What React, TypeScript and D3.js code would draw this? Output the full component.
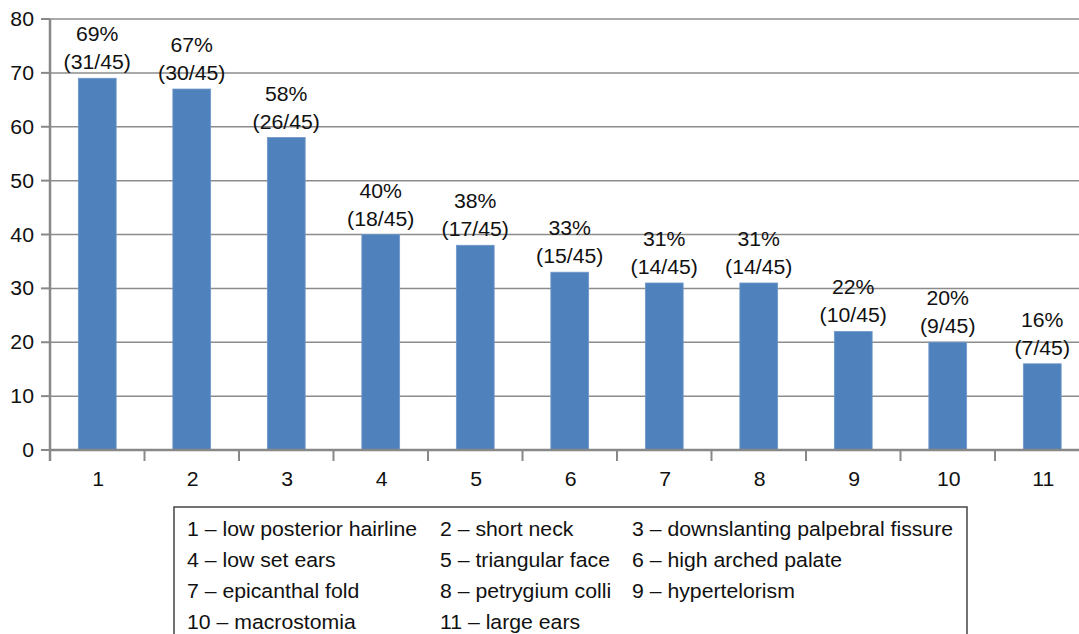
import { useEffect, useRef } from 'react'
import * as d3 from 'd3'

const categories = ['1', '2', '3', '4', '5', '6', '7', '8', '9', '10', '11']
const percents = [69, 67, 58, 40, 38, 33, 31, 31, 22, 20, 16]
const counts = [31, 30, 26, 18, 17, 15, 14, 14, 10, 9, 7]
const total = 45
const yTicks = [0, 10, 20, 30, 40, 50, 60, 70, 80]
const legendRows = [
  ['1 – low posterior hairline', '2 – short neck', '3 – downslanting palpebral fissure'],
  ['4 – low set ears', '5 – triangular face', '6 – high arched palate'],
  ['7 – epicanthal fold', '8 – petrygium colli', '9 – hypertelorism'],
  ['10 – macrostomia', '11 – large ears', ''],
]

const W = 1079
const H = 634
const FONT = '"Liberation Sans", Arial, sans-serif'
const FS = 19.5
const SX = 1.09 // text in the original is a bit wide

export default function App() {
  const ref = useRef<SVGSVGElement>(null)

  useEffect(() => {
    const svg = d3.select(ref.current)
    svg.selectAll('*').remove()

    const label = (g: any, tx: number, ty: number, t: string, anchor = 'start') =>
      g.append('text')
        .attr('transform', `translate(${tx},${ty}) scale(${SX},1)`)
        .attr('text-anchor', anchor)
        .attr('font-family', FONT)
        .attr('font-size', FS)
        .attr('fill', '#111')
        .text(t)

    const left = 50
    const step = 94.5
    const x = d3.scaleBand<string>()
      .domain(categories)
      .range([left, left + step * categories.length])
      .paddingInner(0.6)
      .paddingOuter(0.3)

    const y = d3.scaleLinear().domain([0, 80]).range([450, 19])

    // Grid lines
    svg.append('g')
      .selectAll('line')
      .data(yTicks.slice(1))
      .enter().append('line')
      .attr('x1', left)
      .attr('x2', W)
      .attr('y1', d => y(d))
      .attr('y2', d => y(d))
      .attr('stroke', '#8c8c8c')
      .attr('stroke-width', 1.5)

    // Bars
    const data = categories.map((c, i) => ({ c, v: percents[i], n: counts[i] }))
    svg.append('g')
      .selectAll('rect')
      .data(data)
      .enter().append('rect')
      .attr('x', d => x(d.c) || 0)
      .attr('y', d => y(d.v))
      .attr('width', x.bandwidth())
      .attr('height', d => y(0) - y(d.v))
      .attr('fill', '#4f81bd')
      .attr('stroke', '#6f97c8')
      .attr('stroke-width', 0.8)

    // Value labels
    const labels = svg.append('g')
    data.forEach(d => {
      const cx = (x(d.c) || 0) + x.bandwidth() / 2
      label(labels, cx, y(d.v) - 37, `${d.v}%`, 'middle')
      label(labels, cx, y(d.v) - 9, `(${d.n}/${total})`, 'middle')
    })

    // Y axis
    const yAxis = svg.append('g')
    yTicks.forEach(t => {
      yAxis.append('line')
        .attr('x1', left - 9).attr('x2', left)
        .attr('y1', y(t)).attr('y2', y(t))
        .attr('stroke', '#888').attr('stroke-width', 2)
      label(yAxis, 34, y(t) + 7, String(t), 'end')
    })
    svg.append('line')
      .attr('x1', left).attr('x2', left)
      .attr('y1', y(80)).attr('y2', y(0) + 11)
      .attr('stroke', '#888')
      .attr('stroke-width', 2.5)

    // X axis
    svg.append('line')
      .attr('x1', left).attr('x2', W)
      .attr('y1', y(0)).attr('y2', y(0))
      .attr('stroke', '#888')
      .attr('stroke-width', 2.5)
    svg.append('g')
      .selectAll('line')
      .data(d3.range(1, categories.length + 1))
      .enter().append('line')
      .attr('x1', i => left + i * x.step())
      .attr('x2', i => left + i * x.step())
      .attr('y1', y(0))
      .attr('y2', y(0) + 11)
      .attr('stroke', '#888')
      .attr('stroke-width', 2)
    const xLabels = svg.append('g')
    categories.forEach(c => {
      label(xLabels, (x(c) || 0) + x.bandwidth() / 2 + 1, 486, c, 'middle')
    })

    // Legend box
    svg.append('rect')
      .attr('x', 174)
      .attr('y', 507)
      .attr('width', 793)
      .attr('height', 200)
      .attr('fill', 'none')
      .attr('stroke', '#444')
      .attr('stroke-width', 1.5)
    const colX = [187, 440, 632]
    const legend = svg.append('g')
    legendRows.forEach((row, r) => {
      row.forEach((t, c) => {
        if (t) label(legend, colX[c], 535.5 + r * 31, t)
      })
    })
  }, [])

  return (
    <svg
      ref={ref}
      width={W}
      height={H}
      style={{ position: 'absolute', left: 0, top: 0, background: '#fff' }}
    />
  )
}
